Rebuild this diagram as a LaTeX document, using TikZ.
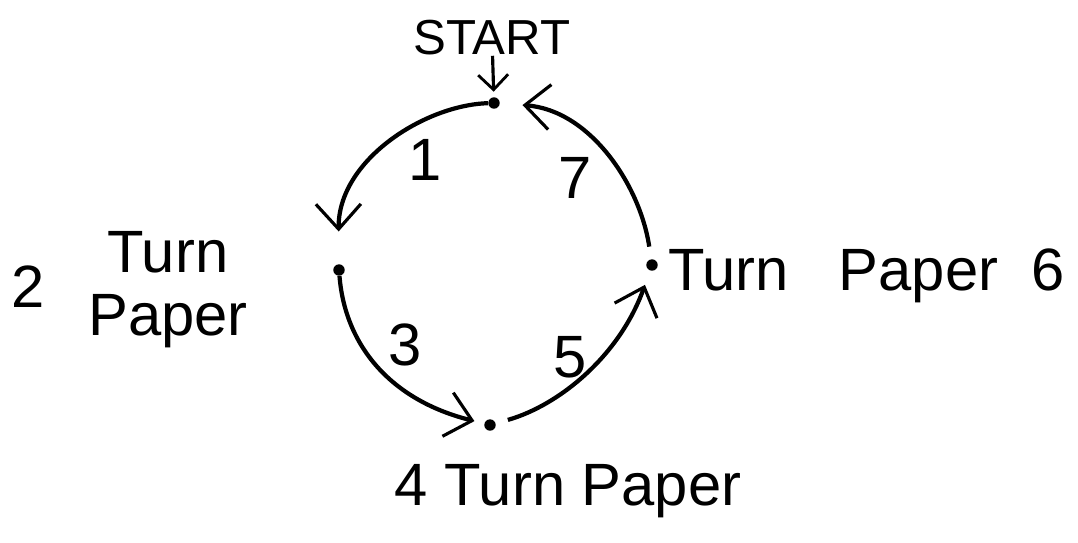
\documentclass[tikz,border=0pt]{standalone}
\usepackage{fontspec}
\setmainfont{Liberation Sans}
\usetikzlibrary{arrows.meta}

\begin{document}
\begin{tikzpicture}[x=0.02cm,y=-0.02cm,
    dot/.style={circle,fill,inner sep=0,minimum size=6.5pt},
    hand/.style={line width=2.4pt,-{Straight Barb[length=5mm,width=9mm,line width=1.8pt]}},
    big/.style={font=\fontsize{34}{36}\selectfont,inner sep=0},
    num/.style={font=\fontsize{34}{36}\selectfont,inner sep=0}]
\useasboundingbox (0,0) rectangle (1078,542);
% the four stops round the circle
\node[dot] (p0) at (494,103) {};
\node[dot] (p2) at (339,270) {};
\node[dot] (p4) at (490,425) {};
\node[dot] (p6) at (652,265) {};
\node[font=\fontsize{28}{30}\selectfont,inner sep=0] (start) at (492,38) {START};
\draw[line width=1.8pt,-{Straight Barb[length=3mm,width=6mm,line width=1.6pt]},shorten >=3pt] (start) -- (p0);
% arcs
\draw[hand,shorten >=0.65cm] (p0) .. controls (425,105) and (338,160) .. (p2);
\draw[hand,shorten >=0.2cm] (p2) .. controls (345,345) and (390,400) .. (p4);
\draw[hand,shorten <=0.25cm,shorten >=0.3cm] (p4) .. controls (560,405) and (620,355) .. (p6);
\draw[hand,shorten <=0.25cm,shorten >=0.45cm] (p6) .. controls (640,185) and (590,110) .. (p0);
\node[num] (n1) at (425,160) {1};
\node[num] (n3) at (405,345) {3};
\node[num] (n5) at (570,357) {5};
\node[num] (n7) at (575,178) {7};
% turn paper labels
\node[big] (two) at (28,287) {2};
\node[big,align=center] (l2) at (168,290) {Turn\\Paper};
\node[big,anchor=base] (l4) at (568,505) {4 Turn Paper};
\node[big,anchor=base west] (l6) at (668,290) {Turn\ \ \ Paper\ \ 6};
\end{tikzpicture}
\end{document}
